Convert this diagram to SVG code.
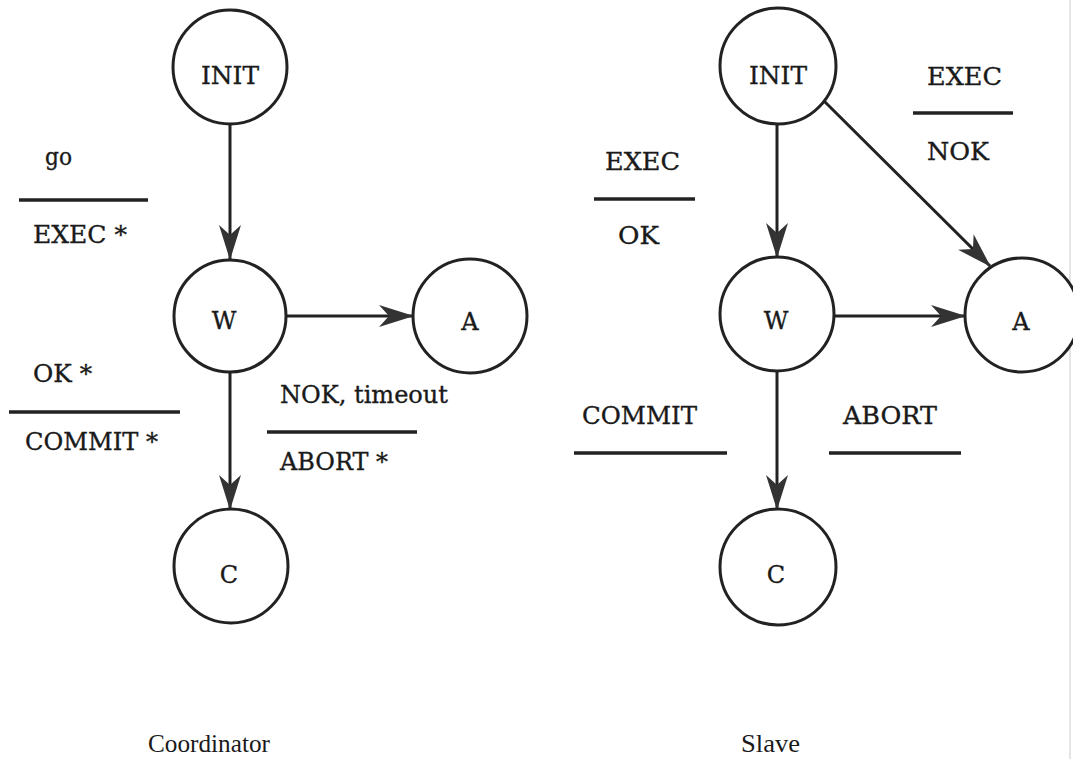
<svg xmlns="http://www.w3.org/2000/svg" width="1073" height="759" viewBox="0 0 1073 759">
  <style>
    .state { fill: #fff; stroke: #222; stroke-width: 3; }
    .lbl { font-family: "DejaVu Serif", "Liberation Serif", serif; fill: #1a1a1a; stroke: #1a1a1a; stroke-width: 0.35; }
    .big { font-size: 25px; }
    .node { font-size: 24px; text-anchor: middle; }
    .init { font-size: 25px; text-anchor: middle; }
    .cap { font-family: "Liberation Serif", "DejaVu Serif", serif; font-size: 26px; fill: #1a1a1a; }
    .edge { stroke: #222; stroke-width: 3; fill: none; marker-end: url(#head); }
    .bar { stroke: #222; stroke-width: 3.5; }
  </style>
  <defs>
    <marker id="head" markerUnits="userSpaceOnUse" markerWidth="40" markerHeight="26" viewBox="-36 -13 38 26" refX="0" refY="0" orient="auto">
      <path d="M1,0 L-34,-11 L-24,0 L-34,11 Z" fill="#333"/>
    </marker>
  </defs>
  <rect width="1073" height="759" fill="#fff"/>
  <line x1="1070" y1="0" x2="1070" y2="759" stroke="#ddd" stroke-width="1.5"/>

  <!-- Coordinator automaton -->
  <g id="connectors-coordinator">
    <line class="edge" x1="230" y1="124" x2="230" y2="259"/>
    <line class="edge" x1="284" y1="316" x2="413" y2="316"/>
    <line class="edge" x1="230" y1="372" x2="230" y2="509"/>
  </g>
  <g id="c-init"><circle class="state" cx="230" cy="67" r="57"/><text class="lbl init" x="230" y="84" textLength="58" lengthAdjust="spacingAndGlyphs">INIT</text></g>
  <g id="c-w"><circle class="state" cx="230" cy="316" r="56"/><text class="lbl node" x="224" y="329">W</text></g>
  <g id="c-a"><circle class="state" cx="470" cy="316" r="57"/><text class="lbl node" x="470" y="330">A</text></g>
  <g id="c-c"><circle class="state" cx="231" cy="566" r="57"/><text class="lbl node" x="229" y="583">C</text></g>

  <g id="c-labels">
    <text class="lbl big" x="45" y="165" textLength="27" lengthAdjust="spacingAndGlyphs">go</text>
    <line class="bar" x1="19" y1="200" x2="148" y2="200"/>
    <text class="lbl big" x="33" y="243" textLength="94" lengthAdjust="spacingAndGlyphs">EXEC *</text>

    <text class="lbl big" x="33" y="382" textLength="59" lengthAdjust="spacingAndGlyphs">OK *</text>
    <line class="bar" x1="9" y1="412" x2="180" y2="412"/>
    <text class="lbl big" x="25" y="450" textLength="133" lengthAdjust="spacingAndGlyphs">COMMIT *</text>

    <text class="lbl big" x="280" y="403" textLength="168" lengthAdjust="spacingAndGlyphs">NOK, timeout</text>
    <line class="bar" x1="267" y1="432" x2="417" y2="432"/>
    <text class="lbl big" x="280" y="470" textLength="108" lengthAdjust="spacingAndGlyphs">ABORT *</text>
  </g>

  <!-- Slave automaton -->
  <g id="connectors-slave">
    <line class="edge" x1="777" y1="124" x2="777" y2="257"/>
    <line class="edge" x1="823" y1="100" x2="990" y2="266"/>
    <line class="edge" x1="834" y1="316" x2="965" y2="316"/>
    <line class="edge" x1="777" y1="371" x2="777" y2="509"/>
  </g>
  <g id="s-init"><circle class="state" cx="778" cy="66" r="58"/><text class="lbl init" x="778" y="84" textLength="58" lengthAdjust="spacingAndGlyphs">INIT</text></g>
  <g id="s-w"><circle class="state" cx="777" cy="314" r="57"/><text class="lbl node" x="776" y="329">W</text></g>
  <g id="s-a"><circle class="state" cx="1022" cy="315" r="57"/><text class="lbl node" x="1021" y="330">A</text></g>
  <g id="s-c"><circle class="state" cx="778" cy="567" r="58"/><text class="lbl node" x="776" y="583">C</text></g>

  <g id="s-labels">
    <text class="lbl big" x="927" y="85" textLength="75" lengthAdjust="spacingAndGlyphs">EXEC</text>
    <line class="bar" x1="913" y1="113" x2="1013" y2="113"/>
    <text class="lbl big" x="927" y="160" textLength="62" lengthAdjust="spacingAndGlyphs">NOK</text>

    <text class="lbl big" x="605" y="170" textLength="75" lengthAdjust="spacingAndGlyphs">EXEC</text>
    <line class="bar" x1="594" y1="199" x2="695" y2="199"/>
    <text class="lbl big" x="618" y="244" textLength="41" lengthAdjust="spacingAndGlyphs">OK</text>

    <text class="lbl big" x="582" y="424" textLength="115" lengthAdjust="spacingAndGlyphs">COMMIT</text>
    <line class="bar" x1="574" y1="453" x2="727" y2="453"/>
    <text class="lbl big" x="843" y="424" textLength="94" lengthAdjust="spacingAndGlyphs">ABORT</text>
    <line class="bar" x1="829" y1="453" x2="961" y2="453"/>
  </g>

  <g id="captions">
    <text class="cap" x="148" y="752" textLength="122" lengthAdjust="spacingAndGlyphs">Coordinator</text>
    <text class="cap" x="741" y="752" textLength="59" lengthAdjust="spacingAndGlyphs">Slave</text>
  </g>
</svg>
